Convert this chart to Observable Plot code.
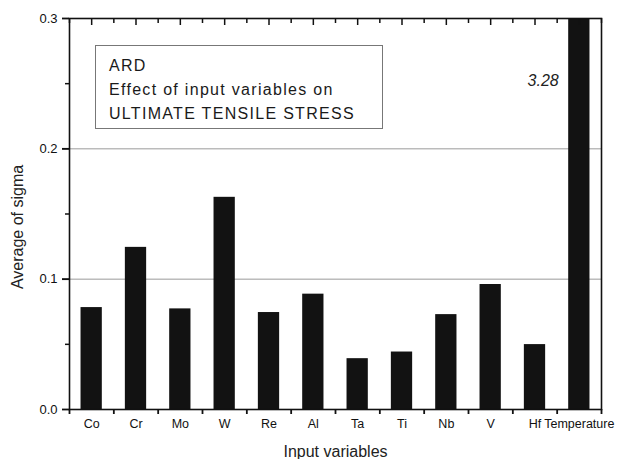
<!DOCTYPE html>
<html>
<head>
<meta charset="utf-8">
<script src="https://cdn.jsdelivr.net/npm/d3@7"></script>
<script src="https://cdn.jsdelivr.net/npm/@observablehq/plot@0.6"></script>
<style>
  body { margin: 0; background: #fff; }
  #wrap { position: relative; width: 618px; height: 459px; font-family: "Liberation Sans", Arial, sans-serif; }
  #legend {
    position: absolute; left: 95px; top: 45px; width: 288px; height: 84px; box-sizing: border-box;
    border: 1px solid #777; background: #fff; padding: 8px 0 0 13px;
    font-size: 16px; line-height: 24px; color: #1a1a1a; letter-spacing: 1.3px;
  }
</style>
</head>
<body>
<div id="wrap"><div id="legend"></div></div>
<script>
const categories = ["Co", "Cr", "Mo", "W", "Re", "Al", "Ta", "Ti", "Nb", "V", "Hf", "Temperature"];
const sigma = [0.0782, 0.1244, 0.0772, 0.1628, 0.0744, 0.0885, 0.0390, 0.0441, 0.0728, 0.0959, 0.0498, 3.28];
const yMajorTicks = [0, 0.1, 0.2, 0.3];
const yMinorTicks = [0.05, 0.15, 0.25];
const gridValues = [0.1, 0.2];
const legendLines = ["ARD", "Effect of input variables on", "ULTIMATE TENSILE STRESS"];
const xTitle = "Input variables";
const yTitle = "Average of sigma";

const data = categories.map((c, i) => ({category: c, index: i, value: sigma[i]}));
const overflow = data.filter(d => d.value > 0.3);
const bandCenters = d3.range(categories.length).map(i => i + 0.5);
const bandEdges = d3.range(categories.length + 1);

const W = 618, H = 459, mT = 18, mB = 50, mL = 69, mR = 17;
const frameH = H - mT - mB;
const frameW = W - mL - mR;
const yMax = 0.3;
const perPxY = yMax / frameH;               // y data units per pixel (tick lengths)
const perPxX = categories.length / frameW;  // x data units per pixel (tick lengths)

const chart = Plot.plot({
  width: W,
  height: H,
  marginLeft: mL,
  marginRight: mR,
  marginTop: mT,
  marginBottom: mB,
  style: {fontFamily: "'Liberation Sans', Arial, sans-serif", color: "#111", background: "#fff"},
  x: {type: "linear", domain: [0, categories.length]},
  y: {domain: [0, yMax]},
  marks: [
    Plot.ruleY(gridValues, {stroke: "#9a9a9a", strokeWidth: 1}),
    Plot.rectY(data, {x1: d => d.index + 0.26, x2: d => d.index + 0.74, y: "value", fill: "#121212", clip: true}),
    Plot.text(overflow, {x: d => d.index + 0.26, y: yMax, text: d => d.value.toFixed(2), textAnchor: "end", dx: -10, dy: 62, fontStyle: "italic", fontSize: 16, fill: "#222"}),
    Plot.ruleX(bandCenters, {x: d => d, y1: yMax, y2: yMax - 7 * perPxY, stroke: "#111", strokeWidth: 1.5}),
    Plot.ruleX(bandEdges, {x: d => d, y1: yMax, y2: yMax - 5 * perPxY, stroke: "#111", strokeWidth: 1.5}),
    Plot.ruleX(bandEdges, {x: d => d, y1: 0, y2: -5 * perPxY, stroke: "#111", strokeWidth: 1.8}),
    Plot.ruleY(yMajorTicks, {y: d => d, x1: 0, x2: -7 * perPxX, stroke: "#111", strokeWidth: 1.8}),
    Plot.ruleY(yMinorTicks, {y: d => d, x1: 0, x2: -4 * perPxX, stroke: "#111", strokeWidth: 1.5}),
    Plot.frame({stroke: "#111", strokeWidth: 1.6}),
    Plot.axisY({ticks: yMajorTicks, tickFormat: d3.format(".1f"), tickSize: 7, tickPadding: 5, fontSize: 13, label: null, style: {letterSpacing: "1.3px"}}),
    Plot.axisX({ticks: bandCenters, tickFormat: v => categories[Math.floor(v)], tickSize: 0, tickPadding: 10, fontSize: 12.5, label: null}),
    Plot.text([xTitle], {frameAnchor: "bottom", textAnchor: "middle", dy: 42, lineAnchor: "middle", fontSize: 16, fill: "#222", style: {letterSpacing: "0.7px"}}),
    Plot.text([yTitle], {frameAnchor: "left", textAnchor: "middle", dx: -52, dy: 13, rotate: -90, lineAnchor: "middle", fontSize: 16, fill: "#222", style: {letterSpacing: "0.8px"}})
  ]
});

const wrap = document.getElementById("wrap");
wrap.insertBefore(chart, wrap.firstChild);
const legend = document.getElementById("legend");
legend.innerHTML = legendLines.map(t => `<div>${t}</div>`).join("");
</script>
</body>
</html>
